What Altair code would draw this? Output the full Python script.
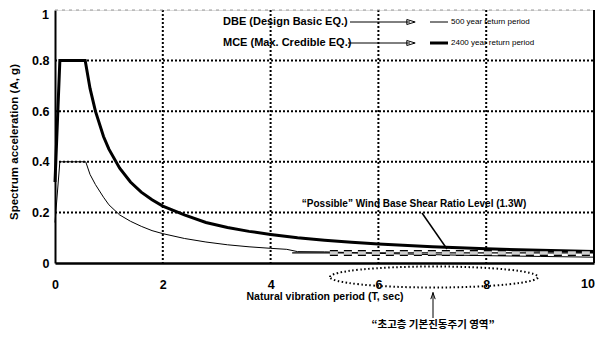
import altair as alt
import pandas as pd

# ---- data ----
T_mce = [0, 0.09, 0.56, 0.65, 0.75, 0.9, 1.0, 1.2, 1.4, 1.6, 1.8, 2.0, 2.4, 2.8,
         3.2, 3.6, 4.0, 4.5, 5.0, 5.5, 6.0, 7.0, 8.0, 9.0, 10.0]
A_mce = [0.32, 0.80, 0.80, 0.69, 0.60, 0.50, 0.45, 0.375, 0.32, 0.28, 0.25, 0.225,
         0.19, 0.16, 0.14, 0.125, 0.113, 0.10, 0.09, 0.082, 0.075, 0.064, 0.056, 0.05, 0.045]

T_dbe = [0, 0.09, 0.57, 0.65, 0.75, 0.9, 1.0, 1.2, 1.4, 1.6, 1.8, 2.0, 2.4, 2.8,
         3.2, 3.6, 4.0, 4.3, 4.5, 5.0, 6.0, 7.0, 8.0, 9.0, 10.0]
A_dbe = [0.16, 0.40, 0.40, 0.35, 0.31, 0.26, 0.23, 0.19, 0.165, 0.145, 0.128, 0.116,
         0.097, 0.083, 0.072, 0.064, 0.058, 0.054, 0.045, 0.044, 0.038, 0.033, 0.029, 0.026, 0.023]

T_wind_line = [4.4, 10.0]
A_wind_line = [0.040, 0.040]
T_wind_box = [5.1, 10.0]
A_wind_box = [0.040, 0.040]

x_ticks = [0, 2, 4, 6, 8, 10]
y_ticks = [0, 0.2, 0.4, 0.6, 0.8, 1.0]
x_grid = [2, 4, 6, 8]
y_grid = [0.2, 0.4, 0.6, 0.8]

W, H = 539, 253
FONT = "Liberation Sans"

df_mce = pd.DataFrame({"T": T_mce, "A": A_mce})
df_dbe = pd.DataFrame({"T": T_dbe, "A": A_dbe})
df_wl = pd.DataFrame({"T": T_wind_line, "A": A_wind_line})
df_wb = pd.DataFrame({"T": T_wind_box, "A": A_wind_box})
df_xg = pd.DataFrame({"T": x_grid})
df_yg = pd.DataFrame({"A": y_grid})
one = pd.DataFrame({"k": [0]})

xs = alt.Scale(domain=[0, 10], nice=False, zero=False)
ys = alt.Scale(domain=[0, 1], nice=False, zero=False)

x_axis = alt.Axis(values=x_ticks, title=None, ticks=False, tickSize=0, labelPadding=15,
                  labelFont=FONT, labelFontSize=12.5, labelFontWeight="bold", labelColor="black",
                  labelExpr="datum.value == 10 ? '' : datum.label",
                  domainColor="black", domainWidth=2.5, grid=False, labelFlush=False)
y_axis = alt.Axis(values=y_ticks, title=None, ticks=False, tickSize=0, labelPadding=6,
                  labelFont=FONT, labelFontSize=12.5, labelFontWeight="bold", labelColor="black",
                  labelExpr="datum.value == 0 ? '0' : datum.value == 1 ? '' : format(datum.value, '.1f')",
                  domainColor="black", domainWidth=2, grid=False, labelFlush=False)

xgrid = alt.Chart(df_xg).mark_rule(color="black", stroke="black", strokeWidth=2, opacity=1,
                                   strokeOpacity=1, strokeDash=[2, 2], strokeCap="butt").encode(
    x=alt.X("T:Q", scale=xs, axis=x_axis), y=alt.value(0), y2=alt.value(H))
ygrid = alt.Chart(df_yg).mark_rule(color="black", stroke="black", strokeWidth=2, opacity=1,
                                   strokeOpacity=1, strokeDash=[2, 2], strokeCap="butt").encode(
    y=alt.Y("A:Q", scale=ys, axis=y_axis), x=alt.value(0), x2=alt.value(W))
topline = alt.Chart(one).mark_rule(color="#999999", strokeWidth=1, strokeDash=[3, 4]).encode(
    x=alt.value(0), x2=alt.value(W), y=alt.value(0))

dbe = alt.Chart(df_dbe).mark_line(color="black", strokeWidth=1).encode(
    x=alt.X("T:Q", scale=xs), y=alt.Y("A:Q", scale=ys))
mce = alt.Chart(df_mce).mark_line(color="black", strokeWidth=3).encode(
    x=alt.X("T:Q", scale=xs), y=alt.Y("A:Q", scale=ys))
wline = alt.Chart(df_wl).mark_line(color="black", strokeWidth=1.2).encode(
    x=alt.X("T:Q", scale=xs), y=alt.Y("A:Q", scale=ys))
wbox_o = alt.Chart(df_wb).mark_line(color="black", strokeWidth=6, strokeDash=[8, 6], strokeCap="butt").encode(
    x=alt.X("T:Q", scale=xs), y=alt.Y("A:Q", scale=ys))
wbox_i = alt.Chart(df_wb).mark_line(color="#d0d0d0", strokeWidth=3.5, strokeDash=[8, 6], strokeCap="butt").encode(
    x=alt.X("T:Q", scale=xs), y=alt.Y("A:Q", scale=ys))

right_border = alt.Chart(one).mark_rule(color="black", strokeWidth=2).encode(
    x=alt.value(W), y=alt.value(0), y2=alt.value(H))


def txt(s, x, y, size=10, weight="bold", align="center", angle=0, font=FONT, baseline="middle"):
    kw = dict(font=font, fontSize=size, fontWeight=weight, align=align,
              baseline=baseline, color="black")
    if angle:
        kw["angle"] = angle
    return alt.Chart(one).mark_text(**kw).encode(
        x=alt.value(x), y=alt.value(y), text=alt.value(s))


def rule(x1, y1, x2, y2, w=1, dash=None):
    kw = dict(color="black", strokeWidth=w)
    if dash:
        kw["strokeDash"] = dash
    return alt.Chart(one).mark_rule(**kw).encode(
        x=alt.value(x1), y=alt.value(y1), x2=alt.value(x2), y2=alt.value(y2))


def sym(path, x, y, size, w=1, dash=None):
    kw = dict(shape=path, filled=False, stroke="black", strokeWidth=w, opacity=1)
    if dash:
        kw["strokeDash"] = dash
    return alt.Chart(one).mark_point(**kw).encode(
        x=alt.value(x), y=alt.value(y), size=alt.value(size))


arrow_right = "M -1 -0.6 L 1 0 L -1 0.6 Z"
arrow_up = "M -0.7 1 L 0 -1 L 0.7 1"
ellipse = "M -1 0 A 1 0.101 0 1 1 1 0 A 1 0.101 0 1 1 -1 0 Z"

annot = [
    # end labels kept inside the page
    txt("1", -6, 8.5, size=12.5, align="right", baseline="alphabetic"),
    txt("10", W + 1, H + 15, size=12.5, align="right", baseline="top"),
    # legend
    txt("DBE (Design Basic EQ.)", 168, 12, size=11, align="left"),
    txt("MCE (Max. Credible EQ.)", 168, 33, size=11, align="left"),
    rule(295, 12, 355, 12, w=1),
    rule(293, 33, 355, 33, w=1),
    sym(arrow_right, 356, 12, 70),
    sym(arrow_right, 356, 33, 70),
    rule(375, 12, 393, 12, w=1),
    rule(375, 33, 393, 33, w=3),
    txt("500 year return period", 396, 12, size=8, weight="normal", align="left"),
    txt("2400 year return period", 396, 33, size=8, weight="normal", align="left"),
    # wind annotation
    txt("\u201cPossible\u201d Wind Base Shear Ratio Level (1.3W)", 359, 194, size=10),
    rule(367, 203, 392, 239, w=1.5),
    # axis titles
    txt("Spectrum acceleration (A, g)", -40, 132, size=11.5, angle=270),
    txt("Natural vibration period (T, sec)", 270, 287, size=10.5),
    # ellipse + arrow + korean label
    sym(ellipse, 379, 267, 43264, w=2, dash=[1.5, 2.5]),
    rule(378, 308, 378, 282, w=1),
    sym(arrow_up, 378, 286, 40),
    txt("\u201c초고층 기본진동주기 영역\u201d", 378, 315, size=10.5, font="Noto Sans CJK KR"),
]

chart = alt.layer(xgrid, ygrid, topline, dbe, mce, wline, wbox_o, wbox_i, right_border, *annot).properties(
    width=W, height=H,
    autosize=alt.AutoSizeParams(type="none"),
    padding={"left": 47, "top": 2, "right": 1, "bottom": 75},
).configure_view(stroke=None).configure(background="white")

chart.save("out.html", embed_options={"renderer": "svg", "actions": False})
